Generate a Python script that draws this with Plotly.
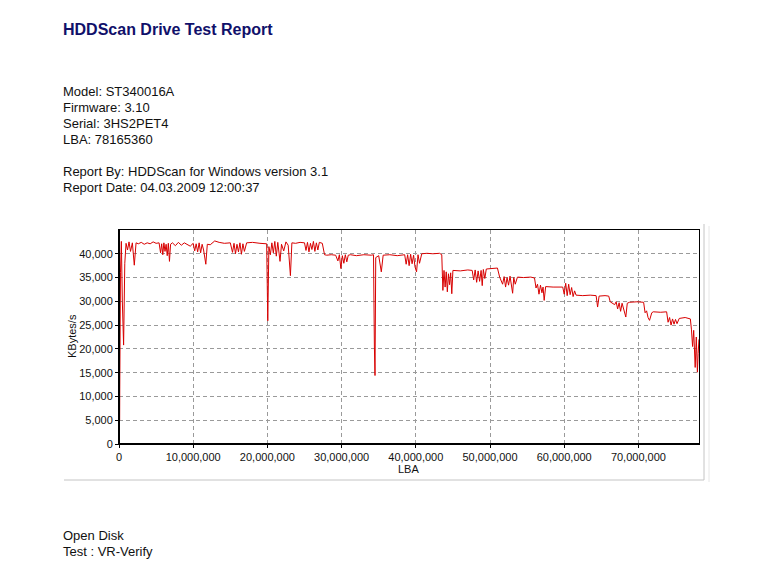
import plotly.graph_objects as go

# ---------------- data ----------------
# LBA position in millions of sectors, and transfer rate in KBytes/s
lba_m = [
    0.0, 0.02, 0.08, 0.2, 0.32, 0.45, 0.62, 0.78, 0.95, 1.15, 1.35, 1.55, 1.8, 2.06, 2.3, 2.6, 3.0, 3.4, 3.8, 4.2, 4.6, 5.0, 5.4,
    5.6, 5.75, 5.9, 6.05, 6.2, 6.35, 6.5, 6.65, 6.8, 6.95,
    7.2, 7.6, 8.0, 8.4, 8.8, 9.2, 9.6, 10.0,
    10.2, 10.4, 10.6, 10.8, 11.0, 11.2, 11.4, 11.7, 11.9, 12.3, 12.9, 13.5, 14.2, 15.0,
    15.3, 15.5, 15.7, 15.9, 16.1, 16.3, 16.5, 16.7, 16.9, 17.2, 18.0, 19.0, 19.9, 20.05, 20.2,
    20.4, 20.6, 20.8, 21.0, 21.2, 21.4, 21.7, 21.9, 22.2, 22.5, 22.8, 23.1, 23.3, 23.8, 24.4, 25.0,
    25.2, 25.4, 25.6, 25.8, 26.0, 26.2, 26.4, 26.6, 26.8, 27.0, 27.4, 27.7, 28.0, 28.6, 29.2,
    29.5, 29.7, 29.9, 30.1, 30.3, 30.5, 30.7, 30.9, 31.2, 32.0, 33.0, 34.0, 34.3, 34.42, 34.5, 34.6, 35.0, 35.35, 35.6, 36.5, 37.5, 38.5,
    38.7, 38.9, 39.1, 39.3, 39.5, 39.7, 39.9, 40.1, 40.3, 40.5, 40.8, 41.5, 42.3, 43.2, 43.5,
    43.65, 43.8, 43.95, 44.1, 44.25, 44.4, 44.55, 44.7, 44.85, 45.0, 46.0, 47.0, 47.6,
    47.8, 48.0, 48.2, 48.4, 48.6, 48.8, 48.95, 49.1, 49.3, 49.5, 50.2, 51.0, 51.3,
    51.7, 51.9, 52.1, 52.3, 52.5, 52.7, 52.9, 53.05, 53.2, 53.4, 53.7, 54.5, 55.5, 56.0,
    56.2, 56.4, 56.6, 56.8, 57.0, 57.15, 57.3, 57.5, 58.5, 59.5, 59.8,
    60.0, 60.2, 60.4, 60.6, 60.8, 61.0, 61.2, 61.4, 61.6, 62.5, 63.5, 64.3, 64.5, 64.7, 65.5, 66.0, 66.2,
    66.8, 67.0, 67.2, 67.4, 67.6, 67.8, 68.0, 68.3, 68.5, 68.8, 69.8, 70.7, 70.9, 71.1, 71.3, 71.5, 71.8, 72.0, 73.0, 73.8,
    74.0, 74.2, 74.4, 74.6, 74.8, 75.0, 75.2, 75.5, 76.3, 77.0, 77.15, 77.3, 77.45, 77.65, 77.8, 77.95, 78.05, 78.16,
]
kbps = [
    0, 43000, 5000, 36000, 42600, 30000, 20800, 38000, 42200, 40800, 42500, 40500, 42300, 37600, 42300, 42100, 42400, 42000, 42300, 42100, 42500, 42200, 42300,
    40200, 42100, 39800, 42300, 40500, 42000, 39600, 42200, 38400, 42000,
    42300, 41700, 42400, 41800, 42300, 42000, 41600, 42200,
    40600, 42100, 40400, 42300, 40200, 42000, 40800, 37800, 42000, 41900, 42700, 42400, 42200, 42300,
    40300, 42200, 40000, 42000, 40400, 42300, 39900, 42100, 40500, 42300, 42400, 42200, 42100, 25900, 41500,
    39800, 42300, 40200, 42600, 39500, 42400, 38400, 42000, 40600, 42500, 41800, 35400, 42300, 42200, 42400, 42300,
    40700, 42400, 40400, 42200, 40900, 42600, 40500, 42300, 40800, 42400, 42200, 39800, 39700, 39800, 39700,
    38500, 39800, 36900, 39600, 38000, 39800, 38300, 39700, 39800, 39600, 39800, 39700, 39800, 20400, 14400, 39200, 39600, 36200, 39700, 39800, 39600, 39800,
    37800, 39800, 37500, 39900, 37900, 39700, 37200, 36200, 39800, 38000, 40000, 40100, 40000, 40100, 39800,
    32300, 36500, 33000, 36200, 32000, 35800, 33500, 36000, 31600, 36500, 36400, 36600, 36500,
    34500, 36600, 34000, 36400, 34200, 36500, 33300, 36700, 34800, 36800, 36900, 37000, 35100,
    33600, 35200, 33000, 35000, 33400, 35300, 32500, 31700, 35000, 33600, 35100, 35000, 35100, 34900,
    32800, 33600, 31500, 33400, 31800, 33000, 30200, 33100, 33000, 33100, 33000,
    31500, 33800, 31200, 33600, 31400, 32900, 31000, 32200, 31300, 31200, 31300, 31200, 28800, 31100, 31200, 31100, 29900,
    29300, 29900, 28400, 29700, 27900, 29600, 28600, 26700, 29600, 29800, 29900, 29800, 27600, 28000, 26600, 26000, 27600, 27800, 27700, 27800,
    25600, 26600, 25000, 26300, 25200, 26200, 25300, 26400, 26600, 26300, 24000, 20500, 23900, 16100, 22500, 15100, 19000, 22000,
]
assert len(lba_m) == len(kbps), (len(lba_m), len(kbps))

x_ticks = [0, 10_000_000, 20_000_000, 30_000_000, 40_000_000, 50_000_000, 60_000_000, 70_000_000]
y_ticks = [0, 5000, 10000, 15000, 20000, 25000, 30000, 35000, 40000]
total_lba = 78165360

title_text = "HDDScan Drive Test Report"
info_lines = ["Model: ST340016A", "Firmware: 3.10", "Serial: 3HS2PET4", "LBA: 78165360"]
report_lines = ["Report By: HDDScan for Windows version 3.1", "Report Date: 04.03.2009 12:00:37"]
footer_lines = ["Open Disk", "Test : VR-Verify"]

# ---------------- layout geometry (pixels of the browser window) ----------------
OFF = 8                     # the page body margin that offsets the figure
W, H = 766 - OFF, 578 - OFF  # figure size
PL, PR, PT, PB = 119, 699, 230, 444   # plot area in window pixels
L, T = PL - OFF, PT - OFF
R, B = W - (PR - OFF), H - (PB - OFF)
PW, PH = W - L - R, H - T - B
FONT = "Liberation Sans, Arial, sans-serif"
TXT_PAD = 2                 # left padding plotly adds around annotation text


def px(x):
    return (x - OFF - L) / PW


def py(y):
    return (H - B - (y - OFF)) / PH


lba = [v * 1_000_000 for v in lba_m]

fig = go.Figure()
fig.add_trace(go.Scatter(
    x=lba, y=kbps, mode="lines",
    line=dict(color="#d80000", width=1),
    hoverinfo="skip", showlegend=False,
))

annotations = []


def left_text(t, x, y, size, color, bold=False):
    annotations.append(dict(text=("<b>" + t + "</b>") if bold else t,
                            x=px(x - TXT_PAD), y=py(y), xref="paper", yref="paper",
                            xanchor="left", yanchor="middle", showarrow=False,
                            font=dict(family=FONT, size=size, color=color)))


left_text(title_text, 63, 30, 16, "#10106a", bold=True)
for i, t in enumerate(info_lines):
    left_text(t, 63, 91 + 16 * i, 13, "#111111")
for i, t in enumerate(report_lines):
    left_text(t, 63, 171 + 16 * i, 13, "#111111")
for i, t in enumerate(footer_lines):
    left_text(t, 63, 535 + 16 * i, 13, "#111111")

annotations.append(dict(text="KBytes/s", textangle=-90, x=px(72), y=py(336), xref="paper", yref="paper",
                        xanchor="center", yanchor="middle", showarrow=False,
                        font=dict(family=FONT, size=11, color="#111111")))
annotations.append(dict(text="LBA", x=px(408), y=py(469), xref="paper", yref="paper",
                        xanchor="center", yanchor="middle", showarrow=False,
                        font=dict(family=FONT, size=11, color="#111111")))

shapes = [
    # panel edges (light grey)
    dict(type="line", xref="paper", yref="paper", x0=px(704), x1=px(704), y0=py(224), y1=py(480),
         line=dict(color="#c4c4c4", width=1)),
    dict(type="line", xref="paper", yref="paper", x0=px(709), x1=px(709), y0=py(226), y1=py(482),
         line=dict(color="#e6e6e6", width=1)),
    dict(type="line", xref="paper", yref="paper", x0=px(64), x1=px(704), y0=py(480), y1=py(480),
         line=dict(color="#c4c4c4", width=1)),
    # thick left and bottom axis lines
    dict(type="line", xref="paper", yref="paper", x0=0, x1=0, y0=0, y1=1, line=dict(color="black", width=2)),
    dict(type="line", xref="paper", yref="paper", x0=0, x1=1, y0=0, y1=0, line=dict(color="black", width=2)),
]

fig.update_layout(
    width=W, height=H,
    margin=dict(l=L, r=R, t=T, b=B, pad=0),
    paper_bgcolor="white", plot_bgcolor="white",
    font=dict(family=FONT, size=11, color="#111111"),
    annotations=annotations, shapes=shapes,
    xaxis=dict(range=[0, total_lba], tickvals=x_ticks, ticktext=[f"{v:,}" for v in x_ticks],
               showgrid=True, gridcolor="#9a9a9a", griddash="4px,3px", gridwidth=1,
               showline=True, linecolor="black", linewidth=1, mirror=True,
               ticks="outside", ticklen=3, tickcolor="black", zeroline=False,
               tickfont=dict(family=FONT, size=11, color="#111111")),
    yaxis=dict(range=[0, 45000], tickvals=y_ticks, ticktext=[f"{v:,}" for v in y_ticks],
               showgrid=True, gridcolor="#9a9a9a", griddash="4px,3px", gridwidth=1,
               showline=True, linecolor="black", linewidth=1, mirror=True,
               ticks="outside", ticklen=3, tickcolor="black", zeroline=False,
               tickfont=dict(family=FONT, size=11, color="#111111")),
)

fig.write_html("out.html")
